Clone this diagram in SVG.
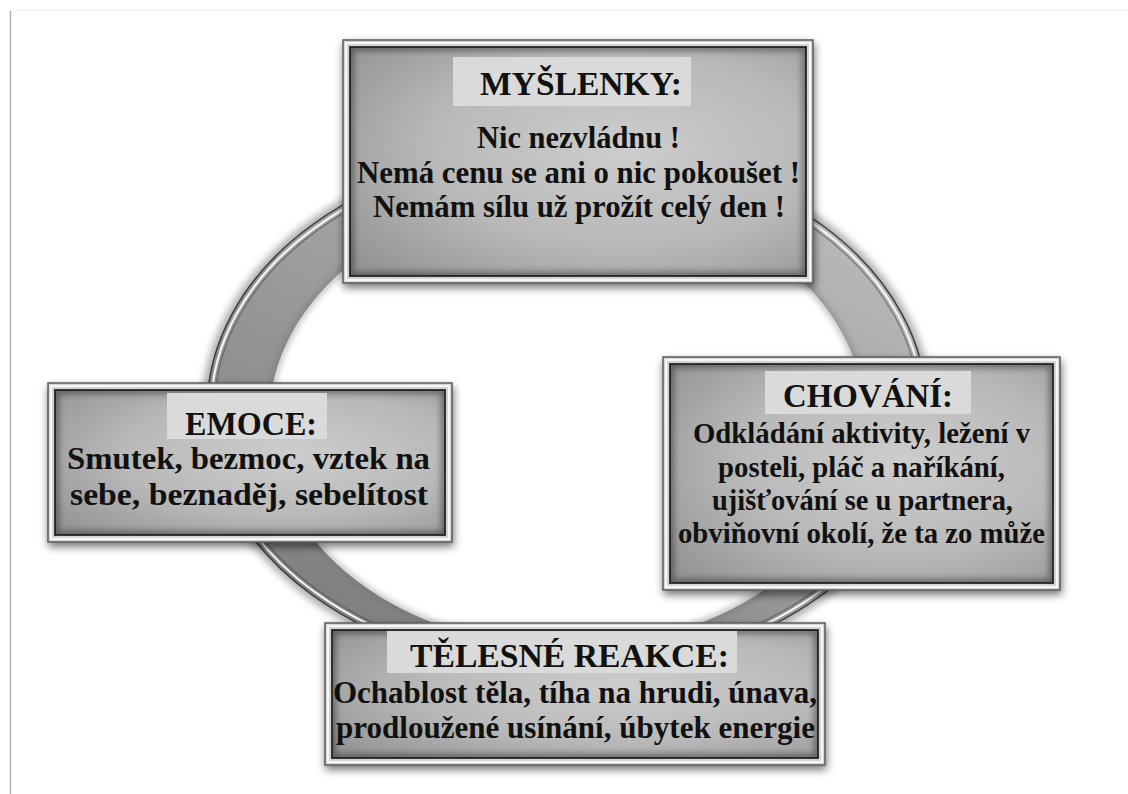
<svg xmlns="http://www.w3.org/2000/svg" width="1128" height="794" viewBox="0 0 1128 794">
<defs>
<style>
.t{font-family:"Liberation Serif","Times New Roman",serif;font-weight:bold;fill:#111;}
.title{font-size:34px;}
.body{font-size:31px;}
.frame{fill:#d4d4d4;stroke:#5a5a5a;stroke-width:1.5;}
.hl{fill:none;stroke:#f7f7f7;stroke-width:2;}
.inner{fill:url(#boxgrad);stroke:#383838;stroke-width:2;}
.ish{fill:none;stroke:#000;stroke-width:8;opacity:.38;filter:url(#blur3);}
.tbg{fill:#dadada;}
</style>
<radialGradient id="boxgrad" cx="0.6" cy="0.45" r="0.75">
<stop offset="0" stop-color="#cdcdcd"/>
<stop offset="0.55" stop-color="#b9b9b9"/>
<stop offset="1" stop-color="#959595"/>
</radialGradient>
<linearGradient id="ringgrad" x1="0.8" y1="0.1" x2="0.2" y2="0.9">
<stop offset="0" stop-color="#b8b8b8"/>
<stop offset="0.5" stop-color="#9c9c9c"/>
<stop offset="1" stop-color="#808080"/>
</linearGradient>
<filter id="blur3" x="-20%" y="-20%" width="140%" height="140%"><feGaussianBlur stdDeviation="3"/></filter>
<filter id="blur5" x="-20%" y="-20%" width="140%" height="140%"><feGaussianBlur stdDeviation="5"/></filter>
<filter id="drop" x="-10%" y="-10%" width="120%" height="130%">
<feGaussianBlur in="SourceAlpha" stdDeviation="4"/>
<feOffset dx="1" dy="4" result="b"/>
<feComponentTransfer><feFuncA type="linear" slope="0.55"/></feComponentTransfer>
<feMerge><feMergeNode/><feMergeNode in="SourceGraphic"/></feMerge>
</filter>
<clipPath id="c1"><rect x="350" y="47" width="456" height="229"/></clipPath>
<clipPath id="c2"><rect x="670" y="364" width="383" height="219"/></clipPath>
<clipPath id="c3"><rect x="55" y="390" width="390" height="145"/></clipPath>
<clipPath id="c4"><rect x="332" y="630" width="486" height="128"/></clipPath>
</defs>
<rect x="0" y="0" width="1128" height="794" fill="#fff"/>
<line x1="10" y1="10.5" x2="1128" y2="10.5" stroke="#f0f0f0" stroke-width="1"/>
<line x1="10.5" y1="11" x2="10.5" y2="794" stroke="#b5b5b5" stroke-width="1.5"/>

<g id="connectors">
<ellipse cx="567" cy="410" rx="360" ry="262" fill="none" stroke="#000" stroke-width="6" opacity="0.55" filter="url(#blur5)"/>
<path d="M207,410 a360,262 0 1,0 720,0 a360,262 0 1,0 -720,0 Z M269,420 a298,227 0 1,1 596,0 a298,227 0 1,1 -596,0 Z" fill="url(#ringgrad)" fill-rule="evenodd"/>
<ellipse cx="567" cy="420" rx="298" ry="227" fill="none" stroke="#666" stroke-width="4" opacity="0.6" filter="url(#blur3)"/>
<ellipse cx="567" cy="410" rx="360" ry="262" fill="none" stroke="#3c3c3c" stroke-width="1.5"/>
<ellipse cx="567" cy="410" rx="356" ry="258" fill="none" stroke="#f4f4f4" stroke-width="2.2"/>
<ellipse cx="567" cy="410" rx="352.5" ry="254.5" fill="none" stroke="#555" stroke-width="1.2" opacity="0.7"/>
</g>

<g id="node-myslenky">
<rect class="frame" x="343" y="40" width="470" height="243" filter="url(#drop)"/>
<rect class="hl" x="346" y="43" width="464" height="237"/>
<rect class="inner" x="350" y="47" width="456" height="229"/>
<rect class="ish" x="350" y="47" width="456" height="229" clip-path="url(#c1)"/>
<rect class="tbg" x="453" y="57" width="238" height="49"/>
<text class="t title" x="480" y="95" textLength="202" lengthAdjust="spacingAndGlyphs">MYŠLENKY:</text>
<text class="t body" x="477" y="148" textLength="203" lengthAdjust="spacingAndGlyphs">Nic nezvládnu !</text>
<text class="t body" x="357" y="183" textLength="443" lengthAdjust="spacingAndGlyphs">Nemá cenu se ani o nic pokoušet !</text>
<text class="t body" x="373" y="217" textLength="412" lengthAdjust="spacingAndGlyphs">Nemám sílu už prožít celý den !</text>
</g>

<g id="node-chovani">
<rect class="frame" x="663" y="357" width="397" height="233" filter="url(#drop)"/>
<rect class="hl" x="666" y="360" width="391" height="227"/>
<rect class="inner" x="670" y="364" width="383" height="219"/>
<rect class="ish" x="670" y="364" width="383" height="219" clip-path="url(#c2)"/>
<rect class="tbg" x="765" y="371" width="206" height="43"/>
<text class="t title" x="783" y="407" textLength="170" lengthAdjust="spacingAndGlyphs">CHOVÁNÍ:</text>
<text class="t body" x="693" y="443" textLength="337" lengthAdjust="spacingAndGlyphs" style="font-size:29px">Odkládání aktivity, ležení v</text>
<text class="t body" x="718" y="477" textLength="287" lengthAdjust="spacingAndGlyphs" style="font-size:29px">posteli, pláč a naříkání,</text>
<text class="t body" x="712" y="510" textLength="301" lengthAdjust="spacingAndGlyphs" style="font-size:29px">ujišťování se u partnera,</text>
<text class="t body" x="678" y="543" textLength="367" lengthAdjust="spacingAndGlyphs" style="font-size:29px">obviňovní okolí, že ta zo může</text>
</g>

<g id="node-emoce">
<rect class="frame" x="48" y="383" width="404" height="159" filter="url(#drop)"/>
<rect class="hl" x="51" y="386" width="398" height="153"/>
<rect class="inner" x="55" y="390" width="390" height="145"/>
<rect class="ish" x="55" y="390" width="390" height="145" clip-path="url(#c3)"/>
<rect class="tbg" x="167" y="393" width="160" height="46"/>
<text class="t title" x="185" y="435" textLength="132" lengthAdjust="spacingAndGlyphs">EMOCE:</text>
<text class="t body" x="67" y="469" textLength="363" lengthAdjust="spacingAndGlyphs" style="font-size:32px">Smutek, bezmoc, vztek na</text>
<text class="t body" x="70" y="505" textLength="358" lengthAdjust="spacingAndGlyphs" style="font-size:32px">sebe, beznaděj, sebelítost</text>
</g>

<g id="node-telesne">
<rect class="frame" x="325" y="623" width="500" height="142" filter="url(#drop)"/>
<rect class="hl" x="328" y="626" width="494" height="136"/>
<rect class="inner" x="332" y="630" width="486" height="128"/>
<rect class="ish" x="332" y="630" width="486" height="128" clip-path="url(#c4)"/>
<rect class="tbg" x="387" y="631" width="350" height="42"/>
<text class="t title" x="410" y="667" textLength="319" lengthAdjust="spacingAndGlyphs">TĚLESNÉ REAKCE:</text>
<text class="t body" x="333" y="703" textLength="484" lengthAdjust="spacingAndGlyphs">Ochablost těla, tíha na hrudi, únava,</text>
<text class="t body" x="336" y="738" textLength="479" lengthAdjust="spacingAndGlyphs">prodloužené usínání, úbytek energie</text>
</g>
</svg>
